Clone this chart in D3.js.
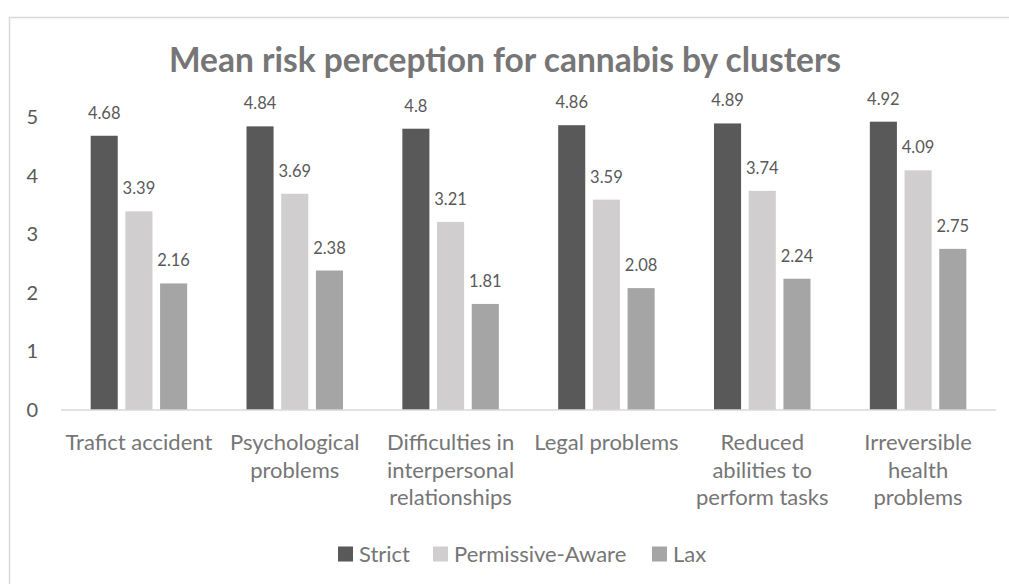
<!DOCTYPE html>
<html>
<head>
<meta charset="utf-8">
<script src="https://cdn.jsdelivr.net/npm/d3@7"></script>
<style>
  body { margin: 0; background: #fff; }
  text { font-family: Lato, "Open Sans", sans-serif; }
</style>
</head>
<body>
<div id="chart"></div>
<script>
// data
const categories = ["Trafict accident", "Psychological problems", "Difficulties in interpersonal relationships",
  "Legal problems", "Reduced abilities to perform tasks", "Irreversible health problems"];
const categoryLines = [
  ["Trafict accident"],
  ["Psychological", "problems"],
  ["Difficulties in", "interpersonal", "relationships"],
  ["Legal problems"],
  ["Reduced", "abilities to", "perform tasks"],
  ["Irreversible", "health", "problems"]
];
const seriesNames = ["Strict", "Permissive-Aware", "Lax"];
const strictValues = [4.68, 4.84, 4.8, 4.86, 4.89, 4.92];
const permissiveValues = [3.39, 3.69, 3.21, 3.59, 3.74, 4.09];
const laxValues = [2.16, 2.38, 1.81, 2.08, 2.24, 2.75];
const yTicks = [0, 1, 2, 3, 4, 5];
const colors = ["#595959", "#d0cece", "#a5a5a5"];

const seriesValues = [strictValues, permissiveValues, laxValues];

const width = 1009, height = 584;

const svg = d3.select("#chart")
  .append("svg")
    .attr("width", width)
    .attr("height", height);

// chart border
svg.append("rect")
  .attr("x", 9.5).attr("y", 17.5)
  .attr("width", 1010).attr("height", 600)
  .attr("fill", "none")
  .attr("stroke", "#d9d9d9")
  .attr("stroke-width", 1.5);

// title
svg.append("text")
  .attr("x", 505).attr("y", 72)
  .attr("text-anchor", "middle")
  .style("font-size", "33.5px")
  .style("font-weight", "bold")
  .style("fill", "#767676")
  .text("Mean risk perception for cannabis by clusters");

// scales
const x = d3.scaleBand()
  .domain(categories)
  .range([61, 996])
  .padding(0);

const xs = d3.scaleBand()
  .domain(seriesNames)
  .range([0, x.bandwidth()])
  .paddingInner(0.22)
  .paddingOuter(0.855);

const y = d3.scaleLinear()
  .domain([0, 5])
  .range([410, 117]);

// y axis labels
svg.append("g")
  .selectAll("text")
  .data(yTicks)
  .join("text")
    .attr("x", 38)
    .attr("y", d => y(d))
    .attr("dy", "0.35em")
    .attr("text-anchor", "end")
    .style("font-size", "20px")
    .style("fill", "#595959")
    .text(d => d);

// bars
const groups = svg.selectAll(".grp")
  .data(categories)
  .join("g")
    .attr("class", "grp")
    .attr("transform", d => `translate(${x(d)},0)`);

groups.selectAll("rect")
  .data((d, i) => seriesNames.map((s, j) => ({ s: s, v: seriesValues[j][i], j: j })))
  .join("rect")
    .attr("x", d => xs(d.s))
    .attr("y", d => y(d.v))
    .attr("width", xs.bandwidth())
    .attr("height", d => y(0) - y(d.v))
    .attr("fill", d => colors[d.j]);

groups.selectAll(".val")
  .data((d, i) => seriesNames.map((s, j) => ({ s: s, v: seriesValues[j][i] })))
  .join("text")
    .attr("class", "val")
    .attr("x", d => xs(d.s) + xs.bandwidth() / 2)
    .attr("y", d => y(d.v) - 17)
    .attr("text-anchor", "middle")
    .style("font-size", "16.5px")
    .style("fill", "#595959")
    .text(d => d.v);

// x axis line
svg.append("line")
  .attr("x1", 61).attr("x2", 996)
  .attr("y1", y(0)).attr("y2", y(0))
  .attr("stroke", "#d9d9d9")
  .attr("stroke-width", 1.5);

// category labels
groups.append("text")
  .attr("text-anchor", "middle")
  .style("font-size", "22px")
  .style("fill", "#767676")
  .selectAll("tspan")
  .data((d, i) => categoryLines[i])
  .join("tspan")
    .attr("x", x.bandwidth() / 2)
    .attr("y", (d, k) => 450 + k * 27.5)
    .text(d => d);

// legend
const legendX = [338, 433, 652];
const legend = svg.append("g")
  .selectAll("g")
  .data(seriesNames)
  .join("g")
    .attr("transform", (d, i) => `translate(${legendX[i]},554)`);
legend.append("rect")
  .attr("x", 0).attr("y", -7.5)
  .attr("width", 15).attr("height", 15)
  .attr("fill", (d, i) => colors[i]);
legend.append("text")
  .attr("x", 21)
  .attr("dy", "0.35em")
  .style("font-size", "22px")
  .style("fill", "#767676")
  .text(d => d);
</script>
</body>
</html>
